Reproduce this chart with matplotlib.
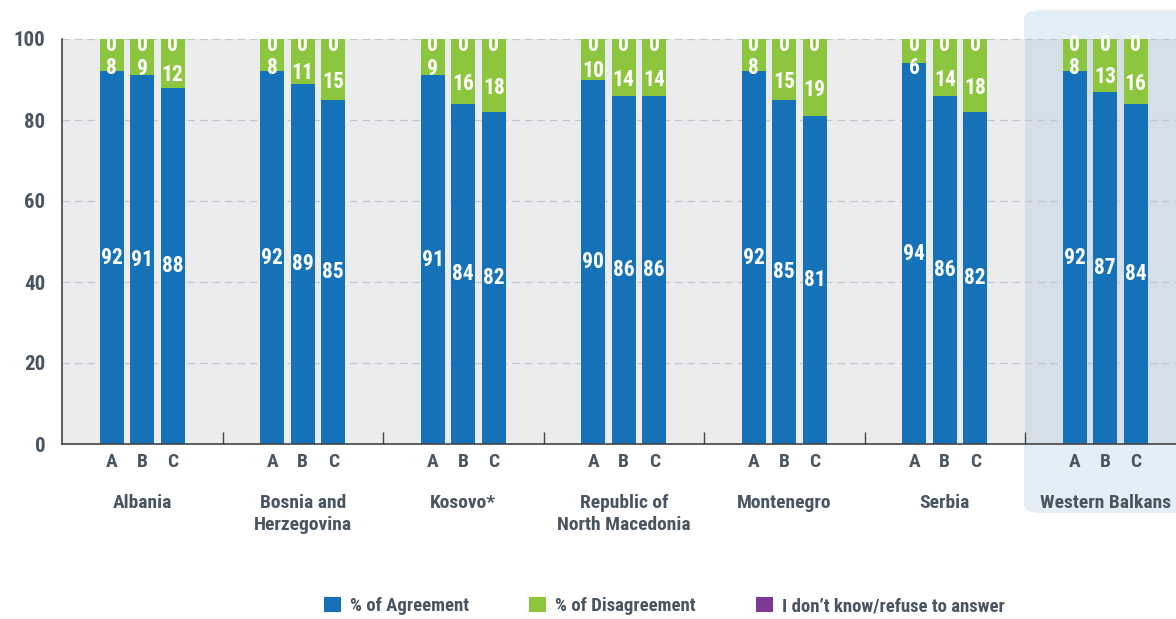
import matplotlib
matplotlib.use("Agg")
import matplotlib.pyplot as plt
from matplotlib.patches import FancyBboxPatch, Patch
import numpy as np
from matplotlib import font_manager

countries = ["Albania", "Bosnia and\nHerzegovina", "Kosovo*", "Republic of\nNorth Macedonia",
             "Montenegro", "Serbia", "Western Balkans"]
sub_labels = ["A", "B", "C"]
agree_A = [92, 92, 91, 90, 92, 94, 92]
agree_B = [91, 89, 84, 86, 85, 86, 87]
agree_C = [88, 85, 82, 86, 81, 82, 84]
disagree_A = [8, 8, 9, 10, 8, 6, 8]
disagree_B = [9, 11, 16, 14, 15, 14, 13]
disagree_C = [12, 15, 18, 14, 19, 18, 16]
dk_A = [0, 0, 0, 0, 0, 0, 0]
dk_B = [0, 0, 0, 0, 0, 0, 0]
dk_C = [0, 0, 0, 0, 0, 0, 0]
series_names = ["% of Agreement", "% of Disagreement", "I don\u2019t know/refuse to answer"]
yticks = [0, 20, 40, 60, 80, 100]

BLUE = "#1572b9"
GREEN = "#8cc63f"
PURPLE = "#7c3a96"
TXT = "#4a5562"

fonts = font_manager.fontManager.ttflist
names = set(f.name for f in fonts)
STRETCH = "normal"
FONT = None
for cand in ["Roboto Condensed", "Liberation Sans Narrow", "Open Sans Condensed",
             "Noto Sans Condensed", "DejaVu Sans Condensed"]:
    if cand in names:
        FONT = cand
        break
if FONT is None:
    FONT = "DejaVu Sans"
    if any(f.name == "DejaVu Sans" and f.stretch == "condensed" for f in fonts):
        STRETCH = "condensed"
plt.rcParams["font.family"] = [FONT, "DejaVu Sans"]
plt.rcParams["font.weight"] = "bold"
plt.rcParams["font.stretch"] = STRETCH

W, H = 1176, 619
fig = plt.figure(figsize=(W / 100, H / 100), dpi=100)
fig.patch.set_facecolor("white")

# Western Balkans highlight panel (figure coords)
panel = FancyBboxPatch((1024 / W, 1 - 513 / H), (1200 - 1024) / W, (513 - 10) / H,
                       boxstyle="round,pad=0,rounding_size=0.015",
                       transform=fig.transFigure, facecolor="#e3eef7", edgecolor="none",
                       zorder=-5)
fig.patches.append(panel)

left, right = 62 / W, 1.0
bottom, top = 1 - 444 / H, 1 - 39 / H
ax = fig.add_axes([left, bottom, right - left, top - bottom])
ax.set_zorder(1)
ax.set_facecolor("#ebecee")
group_w = 160.5
ax.set_xlim(0, (W - 62) / group_w)
ax.set_ylim(0, 100)

# darker overlay for WB inside axes
ax.axvspan(6, 7.5, color="#d5dfe8", zorder=0.5, lw=0)

for y in yticks[1:]:
    ax.axhline(y, color="#c4c6c9", lw=0.9, ls=(0, (6, 4)), zorder=1)

agree = [agree_A, agree_B, agree_C]
dis = [disagree_A, disagree_B, disagree_C]
dk = [dk_A, dk_B, dk_C]
offsets = [-0.19, 0.0, 0.19]
bw = 0.15
n = len(countries)
centers = np.arange(n) + 0.5
FS = 15.5
for k in range(3):
    x = centers + offsets[k]
    a = np.array(agree[k]); d = np.array(dis[k]); u = np.array(dk[k])
    ax.bar(x, a, bw, color=BLUE, zorder=2)
    ax.bar(x, d, bw, bottom=a, color=GREEN, zorder=2)
    ax.bar(x, u, bw, bottom=a + d, color=PURPLE, zorder=2)
    for xi, ai, di, ui in zip(x, a, d, u):
        ax.text(xi, ai / 2, f"{ai}", color="white", ha="center", va="center",
                fontsize=FS, fontweight="bold", zorder=3)
        ax.text(xi, min(ai + di / 2 - 3, 92.8), f"{di}", color="white", ha="center",
                va="center", fontsize=FS, fontweight="bold", zorder=3)
        ax.text(xi, 98.5, f"{ui}", color="white", ha="center", va="center",
                fontsize=FS, fontweight="bold", zorder=3)
        ax.text(xi, -2.2, sub_labels[k], ha="center", va="top", color=TXT,
                fontsize=14, fontweight="bold", clip_on=False)

for i, c in enumerate(countries):
    ax.text(centers[i], -12.3, c, ha="center", va="top", color=TXT, fontsize=14,
            fontweight="bold", linespacing=1.3, clip_on=False)

for s in ["top", "right"]:
    ax.spines[s].set_visible(False)
ax.spines["left"].set_color("#444444")
ax.spines["bottom"].set_color("#444444")
ax.spines["left"].set_linewidth(1.2)
ax.spines["bottom"].set_linewidth(1.2)
ax.set_xticks(np.arange(1, n))
ax.set_xticklabels([])
ax.tick_params(axis="x", direction="in", length=9, color="#444444", width=1)
ax.set_yticks(yticks)
ax.set_yticklabels([str(v) for v in yticks], color=TXT, fontsize=15, fontweight="bold")
ax.tick_params(axis="y", length=0, pad=12)

handles = [Patch(facecolor=BLUE), Patch(facecolor=GREEN), Patch(facecolor=PURPLE)]
leg = fig.legend(handles, series_names, loc="center", bbox_to_anchor=(0.565, 1 - 606 / H),
                 ncol=3, frameon=False, fontsize=13.5, handlelength=0.9, handleheight=0.9,
                 columnspacing=3.2, handletextpad=0.5)
for t in leg.get_texts():
    t.set_color(TXT)
    t.set_fontweight("bold")

fig.savefig("out.png", dpi=100)
